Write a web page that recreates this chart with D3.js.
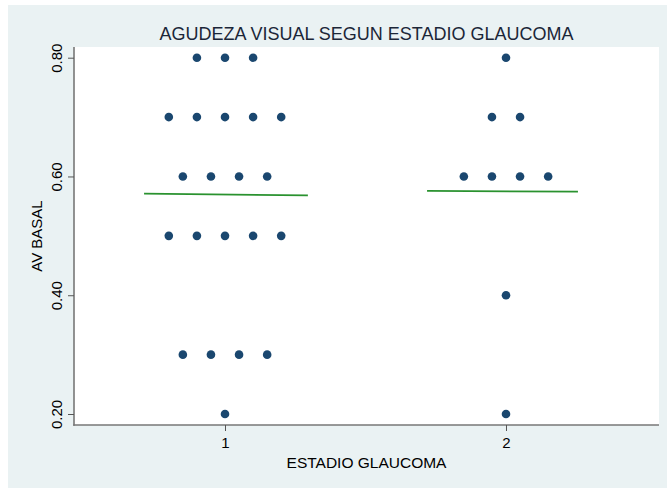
<!DOCTYPE html>
<html>
<head>
<meta charset="utf-8">
<script src="https://cdn.jsdelivr.net/npm/d3@7"></script>
<style>
  html, body { margin: 0; padding: 0; background: #ffffff; }
  svg { display: block; font-family: "Liberation Sans", Arial, Helvetica, sans-serif; }
</style>
</head>
<body>
<svg id="chart" width="667" height="488"></svg>
<script>
// Baseline visual acuity (AV BASAL) by glaucoma stage
const stages = [1, 2];
const stageLabels = ["1", "2"];
const avStage1 = [0.80, 0.80, 0.80,
                  0.70, 0.70, 0.70, 0.70, 0.70,
                  0.60, 0.60, 0.60, 0.60,
                  0.50, 0.50, 0.50, 0.50, 0.50,
                  0.30, 0.30, 0.30, 0.30,
                  0.20];
const avStage2 = [0.80,
                  0.70, 0.70,
                  0.60, 0.60, 0.60, 0.60,
                  0.40,
                  0.20];
// group reference line (left end, right end)
const lineStage1 = [0.571, 0.568];
const lineStage2 = [0.5756, 0.5744];
const yTicks = [0.20, 0.40, 0.60, 0.80];

const svg = d3.select("#chart");
const W = 667, H = 488;
const plot = { left: 74, right: 659, top: 47, bottom: 425 };

// outer background
svg.append("rect").attr("x", 8).attr("y", 5).attr("width", W - 8).attr("height", H - 5)
  .attr("fill", "#eaf2f3");
svg.append("rect").attr("x", plot.left).attr("y", plot.top)
  .attr("width", plot.right - plot.left).attr("height", plot.bottom - plot.top)
  .attr("fill", "#ffffff");

const x = d3.scaleLinear().domain([0.4626, 2.5445]).range([plot.left, plot.right]);
const y = d3.scaleLinear().domain([0.1815, 0.818]).range([plot.bottom, plot.top]);

// dot-strip layout: points sharing a value are spread side by side
const step = 0.1;
function stripLayout(stage, values) {
  const counts = d3.rollup(values, v => v.length, v => v);
  const seen = new Map();
  return values.map(v => {
    const n = counts.get(v);
    const i = seen.get(v) || 0;
    seen.set(v, i + 1);
    return { stage, value: v, pos: stage + (i - (n - 1) / 2) * step };
  });
}
const points = stripLayout(1, avStage1).concat(stripLayout(2, avStage2));

// group lines
const lineSpans = [[0.712, 1.295], [1.719, 2.256]];
const lines = [lineStage1, lineStage2].map((vals, k) => ({
  x0: lineSpans[k][0], x1: lineSpans[k][1], y0: vals[0], y1: vals[1]
}));
svg.append("g").selectAll("line").data(lines).join("line")
  .attr("x1", d => x(d.x0)).attr("x2", d => x(d.x1))
  .attr("y1", d => y(d.y0)).attr("y2", d => y(d.y1))
  .attr("stroke", "#2a922f").attr("stroke-width", 1.8);

// points
svg.append("g").selectAll("circle").data(points).join("circle")
  .attr("cx", d => x(d.pos)).attr("cy", d => y(d.value))
  .attr("r", 4.3).attr("fill", "#1a476f");

// y axis
const yAxis = svg.append("g").attr("transform", `translate(${plot.left},0)`)
  .call(d3.axisLeft(y).tickValues(yTicks).tickFormat(d3.format(".2f")).tickSize(6).tickSizeOuter(0));
yAxis.select(".domain").attr("stroke", "#777").attr("stroke-width", 1.6)
  .attr("d", `M0,${plot.top}V${plot.bottom + 0.8}`);
yAxis.selectAll(".tick line").attr("stroke", "#555").attr("stroke-width", 1);
yAxis.selectAll(".tick text")
  .attr("transform", "rotate(-90)").attr("x", 0).attr("y", -12).attr("dy", 0)
  .attr("text-anchor", "middle").attr("fill", "#000").style("font-size", "15px");

// x axis
const xAxis = svg.append("g").attr("transform", `translate(0,${plot.bottom})`)
  .call(d3.axisBottom(x).tickValues(stages).tickFormat((d, i) => stageLabels[i]).tickSize(6).tickPadding(6).tickSizeOuter(0));
xAxis.select(".domain").attr("stroke", "#777").attr("stroke-width", 1.6)
  .attr("d", `M${plot.left - 0.8},0H${plot.right}`);
xAxis.selectAll(".tick line").attr("stroke", "#555").attr("stroke-width", 1);
xAxis.selectAll(".tick text").attr("fill", "#000").style("font-size", "15px");

// titles
svg.append("text").attr("x", (plot.left + plot.right) / 2).attr("y", 40)
  .attr("text-anchor", "middle").attr("fill", "#1b2638").style("font-size", "18px")
  .text("AGUDEZA VISUAL SEGUN ESTADIO GLAUCOMA");
svg.append("text").attr("x", (plot.left + plot.right) / 2).attr("y", 468)
  .attr("text-anchor", "middle").attr("fill", "#000").style("font-size", "15.5px")
  .text("ESTADIO GLAUCOMA");
svg.append("text").attr("transform", `translate(42,${(plot.top + plot.bottom) / 2}) rotate(-90)`)
  .attr("text-anchor", "middle").attr("fill", "#000").style("font-size", "15px")
  .text("AV BASAL");
</script>
</body>
</html>
